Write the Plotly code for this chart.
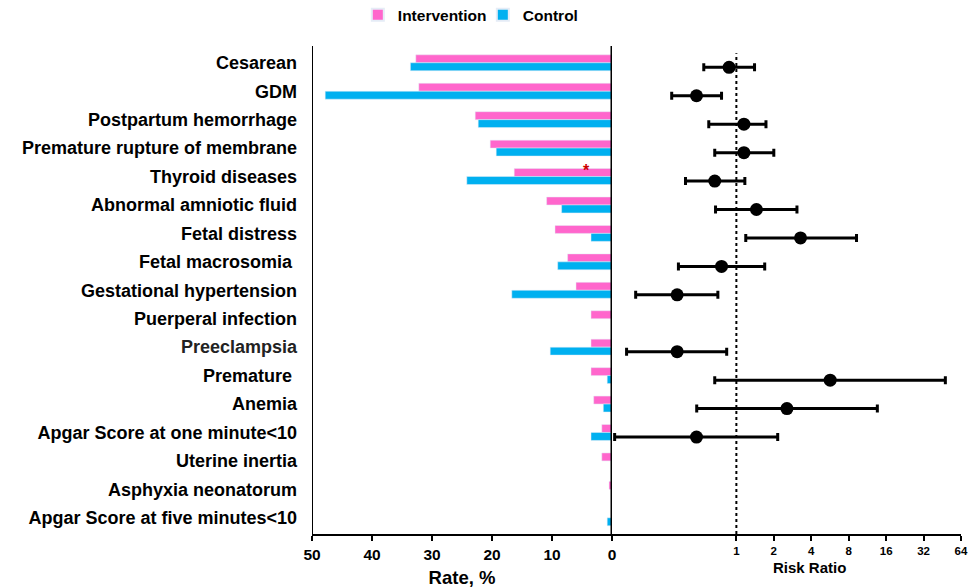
import plotly.graph_objects as go

categories = ["Cesarean", "GDM", "Postpartum hemorrhage", "Premature rupture of membrane",
              "Thyroid diseases", "Abnormal amniotic fluid", "Fetal distress", "Fetal macrosomia ",
              "Gestational hypertension", "Puerperal infection", "Preeclampsia", "Premature ",
              "Anemia", "Apgar Score at one minute<10", "Uterine inertia", "Asphyxia neonatorum",
              "Apgar Score at five minutes<10"]

intervention = [32.7, 32.2, 22.8, 20.3, 16.3, 10.9, 9.5, 7.4, 6.0, 3.5, 3.5, 3.5, 3.05, 1.7, 1.7, 0.5, 0.0]
control = [33.6, 47.8, 22.3, 19.3, 24.2, 8.4, 3.5, 9.05, 16.7, 0.0, 10.3, 0.8, 1.45, 3.5, 0.0, 0.0, 0.8]

rr = [0.874, 0.478, 1.15, 1.15, 0.67, 1.45, 3.28, 0.76, 0.334, None, 0.334, 5.68, 2.55, 0.478, None, None, None]
rr_low = [0.547, 0.302, 0.60, 0.67, 0.39, 0.68, 1.19, 0.342, 0.155, None, 0.131, 0.67, 0.48, 0.105, None, None, None]
rr_high = [1.40, 0.76, 1.73, 2.0, 1.17, 3.07, 9.25, 1.69, 0.71, None, 0.836, 47.9, 13.6, 2.15, None, None, None]

rate_ticks = [50, 40, 30, 20, 10, 0]
rr_tickvals = [1, 2, 4, 8, 16, 32, 64]
rr_ticktext = ["1", "2", "4", "8", "16", "32", "64"]

PINK = "#FF66CC"
BLUE = "#00B0F0"
FONT = "Liberation Sans, Arial, sans-serif"

idx = list(range(len(categories)))

fig = go.Figure()
fig.add_trace(go.Bar(x=intervention, y=idx, orientation="h", name="<b>Intervention</b>",
                     marker_color=PINK, xaxis="x", yaxis="y", offsetgroup="a"))
fig.add_trace(go.Bar(x=control, y=idx, orientation="h", name="<b>Control</b>",
                     marker_color=BLUE, xaxis="x", yaxis="y", offsetgroup="b"))

fx, fy, fp, fm = [], [], [], []
for i in idx:
    if rr[i] is not None:
        fx.append(rr[i])
        fy.append(i + 0.16)
        fp.append(rr_high[i] - rr[i])
        fm.append(rr[i] - rr_low[i])

fig.add_trace(go.Scatter(x=fx, y=fy, mode="markers", xaxis="x2", yaxis="y2",
                         marker=dict(color="black", size=13),
                         error_x=dict(type="data", symmetric=False, array=fp, arrayminus=fm,
                                      color="black", thickness=3, width=4),
                         showlegend=False))

ylo, yhi = 16.57, -0.59
split = 300 / 649

ticktext_y = []
for c in categories:
    if c == "Preeclampsia":
        ticktext_y.append(f"<span style='color:#222222'>{c}</span>")
    else:
        ticktext_y.append(f"<b>{c}</b>")

fig.update_layout(
    width=975, height=588,
    margin=dict(l=312, r=14, t=46, b=54, autoexpand=False),
    paper_bgcolor="white", plot_bgcolor="white",
    font=dict(family=FONT, color="black"),
    barmode="group", bargap=0.44, bargroupgap=0,
    showlegend=True,
    legend=dict(orientation="h", x=0.0706, xanchor="left", y=1.063, yanchor="middle",
                font=dict(size=15.5, family=FONT, color="black"), itemwidth=30,
                entrywidth=80, entrywidthmode="pixels",
                traceorder="normal", itemsizing="constant"),
    xaxis=dict(domain=[0, split], range=[50, 0], tickvals=rate_ticks,
               ticktext=[f"<b>{t}</b>" for t in rate_ticks],
               tickfont=dict(size=15.5, family=FONT), ticks="outside", ticklen=5, tickwidth=2,
               tickcolor="black", showline=True, linecolor="black", linewidth=2,
               showgrid=False, zeroline=False, anchor="y",
               title=dict(text="<b>Rate, %</b>", font=dict(size=18.5, family=FONT), standoff=9)),
    yaxis=dict(domain=[0, 1], range=[ylo, yhi], tickvals=idx,
               ticktext=ticktext_y,
               tickfont=dict(size=18, family=FONT, weight="bold"), ticks="", ticklabelstandoff=14,
               showline=False, showgrid=False, zeroline=False, anchor="x"),
    xaxis2=dict(domain=[split, 1], type="log", range=[-1, 1.8062],
                tickvals=rr_tickvals, ticktext=[f"<b>{t}</b>" for t in rr_ticktext],
                tickfont=dict(size=11.5, family=FONT), ticks="outside", ticklen=5, tickwidth=2,
                tickcolor="black", showline=True, linecolor="black", linewidth=2,
                showgrid=False, zeroline=False, anchor="y2"),
    yaxis2=dict(domain=[0, 1], range=[ylo, yhi], showticklabels=False, showline=False,
                showgrid=False, zeroline=False, anchor="x2", overlaying="y", ticks=""),
    shapes=[
        dict(type="line", xref="x", yref="paper", x0=50, x1=50, y0=0, y1=1,
             line=dict(color="black", width=2)),
        dict(type="line", xref="x", yref="paper", x0=0, x1=0, y0=0, y1=1,
             line=dict(color="black", width=3)),
        dict(type="line", xref="x2", yref="paper", x0=1, x1=1, y0=0, y1=0.985,
             line=dict(color="black", width=2, dash="dot")),
    ],
    annotations=[
        dict(x=4.3, y=4 - 0.2, xref="x", yref="y", text="<b>*</b>", showarrow=False,
             font=dict(size=16, color="#CC0000", family=FONT)),
        dict(x=0.766, y=-33 / 488, xref="paper", yref="paper", text="<b>Risk Ratio</b>",
             showarrow=False, font=dict(size=15, family=FONT), xanchor="center", yanchor="middle"),
    ],
)

fig.write_html("out.html", config={"displayModeBar": False},
               post_script="document.body.style.margin='0';document.body.style.overflow='hidden';")
